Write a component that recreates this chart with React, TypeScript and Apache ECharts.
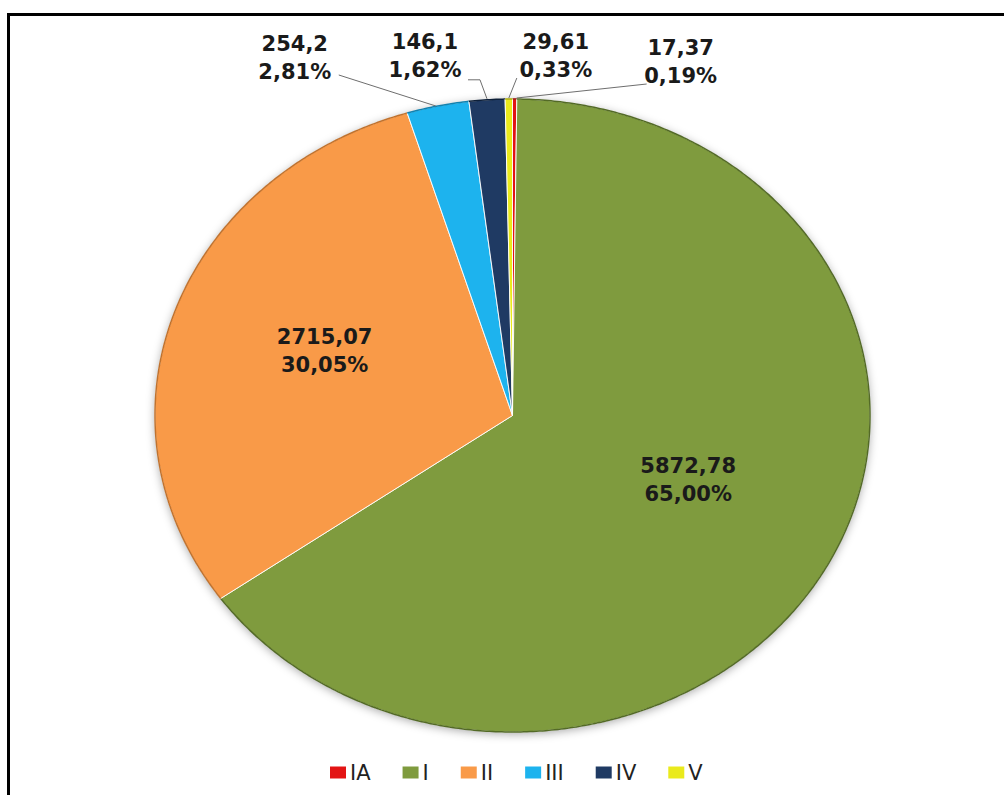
import React, { useEffect, useRef } from 'react';
import * as echarts from 'echarts';

const categories = ['IA', 'I', 'II', 'III', 'IV', 'V'];
const values = [17.37, 5872.78, 2715.07, 254.2, 146.1, 29.61];

const colors = ['#E31414', '#7F9B3E', '#F99A48', '#1DB3EE', '#1F3A63', '#EAEA1C'];
const rimColors = ['#9a0000', '#536a26', '#c0722e', '#1281ae', '#0d1f38', '#a8a800'];

const CX = 512.5;
const CY = 415.5;
const RX = 357.5;
const RY = 316.5;

type Lay = { inside: boolean; f?: number; dx: number; dy: number; leader?: number[][] };
const labelLayout: Lay[] = [
  { inside: false, dx: 166, dy: -37, leader: [[132, -15], [2, -1]] },
  { inside: true, f: 0.555, dx: 0, dy: -17 },
  { inside: true, f: 0.555, dx: 0, dy: -8 },
  { inside: false, dx: -143, dy: -48, leader: [[-99, -31], [-2, 0]] },
  { inside: false, dx: -62, dy: -44, leader: [[-19, -20], [-7, -20], [0, -1]] },
  { inside: false, dx: 47, dy: -43, leader: [[8, -21], [0, -1]] },
];

const total = values.reduce((a, b) => a + b, 0);
const starts: number[] = [];
{
  let acc = 0;
  values.forEach((v) => {
    starts.push(acc);
    acc += v;
  });
}

const fmt = (n: number, d?: number) => {
  const s = d === undefined ? String(n) : n.toFixed(d);
  return s.replace('.', ',');
};

function pt(frac: number, f: number): number[] {
  const a = frac * 2 * Math.PI;
  return [CX + f * RX * Math.sin(a), CY - f * RY * Math.cos(a)];
}

export default function App() {
  const ref = useRef<HTMLDivElement>(null);
  useEffect(() => {
    if (!ref.current) return;
    const chart = echarts.init(ref.current, undefined, { renderer: 'svg' });

    const series = categories.map((name, i) => ({
      type: 'custom',
      name,
      coordinateSystem: 'none',
      itemStyle: { color: colors[i] },
      data: [[values[i]]],
      renderItem: (params: any, api: any) => {
        const v = api.value(0) as number;
        const s = starts[i] / total;
        const e = (starts[i] + v) / total;
        const n = Math.max(2, Math.ceil((e - s) * 720));
        const arc: number[][] = [];
        for (let k = 0; k <= n; k++) arc.push(pt(s + ((e - s) * k) / n, 1));
        const mid = (s + e) / 2;
        const lay = labelLayout[i];
        const anchor = pt(mid, lay.inside ? (lay.f as number) : 1);
        const text = fmt(v) + '\n' + fmt((v / total) * 100, 2) + '%';
        const children: any[] = [
          {
            type: 'polygon',
            shape: { points: [[CX, CY], ...arc] },
            style: { fill: colors[i], stroke: 'rgba(255,255,255,0.9)', lineWidth: 1, lineJoin: 'round' },
          },
          {
            type: 'polyline',
            shape: { points: arc },
            style: { fill: null, stroke: rimColors[i], lineWidth: 1.5 },
          },
        ];
        if (lay.leader) {
          children.push({
            type: 'polyline',
            shape: { points: lay.leader.map((p) => [anchor[0] + p[0], anchor[1] + p[1]]) },
            style: { fill: null, stroke: '#6e6e6e', lineWidth: 1 },
          });
        }
        children.push({
          type: 'text',
          x: anchor[0] + lay.dx,
          y: anchor[1] + lay.dy,
          style: {
            text,
            fill: '#1a1a1a',
            fontSize: 21,
            fontWeight: 'bold',
            fontFamily: '"DejaVu Sans", Verdana, sans-serif',
            align: 'center',
            verticalAlign: 'middle',
            lineHeight: 28,
          },
        });
        return { type: 'group', children };
      },
    }));

    chart.setOption({
      animation: false,
      backgroundColor: '#ffffff',
      graphic: [
        {
          type: 'ellipse',
          z: 0,
          shape: { cx: CX, cy: CY, rx: RX, ry: RY },
          style: { fill: '#ffffff', shadowBlur: 10, shadowColor: 'rgba(0,0,0,0.35)', shadowOffsetY: 2 },
        },
        {
          type: 'rect',
          z: 10,
          shape: { x: 8.5, y: 14.5, width: 1200, height: 1000 },
          style: { fill: 'none', stroke: '#000000', lineWidth: 3 },
        },
      ],
      legend: {
        data: categories,
        left: 325,
        top: 757,
        icon: 'rect',
        itemWidth: 16,
        itemHeight: 12,
        itemGap: 32,
        selectedMode: false,
        textStyle: { fontSize: 21, fontFamily: '"DejaVu Sans", sans-serif', color: '#222222', padding: [0, 0, 0, -1] },
      },
      series,
    } as any);

    return () => chart.dispose();
  }, []);

  return <div ref={ref} style={{ position: 'fixed', left: 0, top: 0, width: 1004, height: 795 }} />;
}
